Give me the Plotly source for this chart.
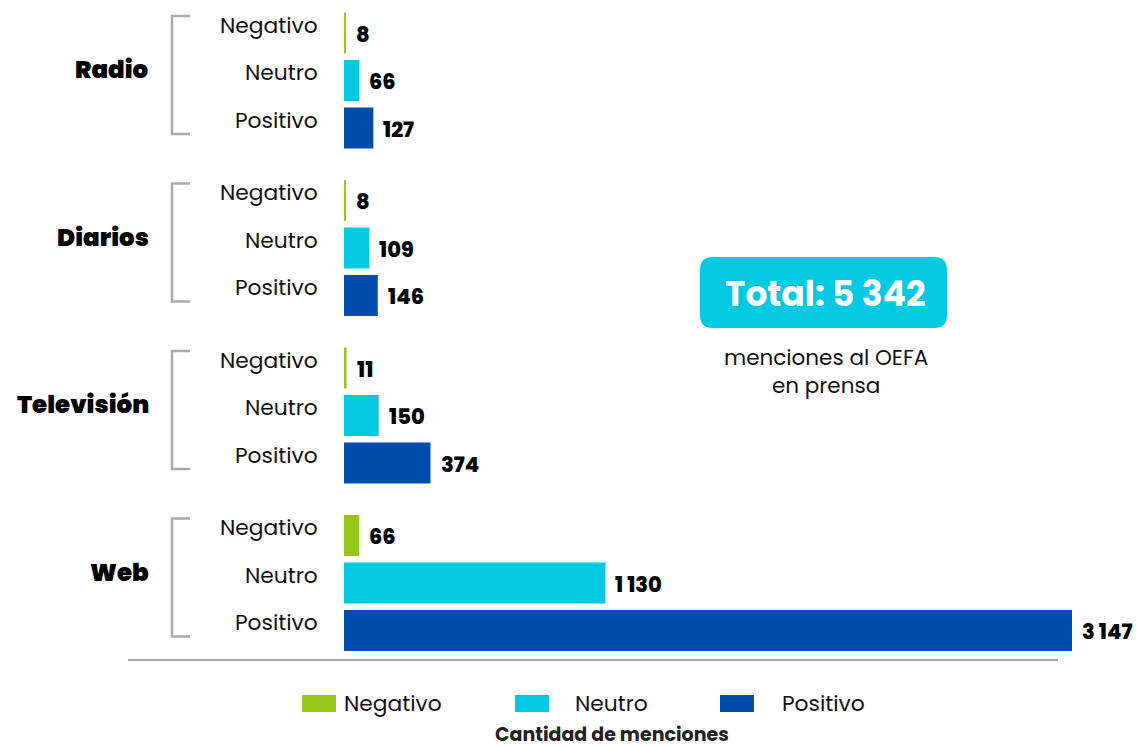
import plotly.graph_objects as go

# Menciones en prensa por canal y tono
canales = ["Radio", "Diarios", "Televisión", "Web"]
sentimientos = ["Negativo", "Neutro", "Positivo"]
negativo = [8, 8, 11, 66]
neutro = [66, 109, 150, 1130]
positivo = [127, 146, 374, 3147]
total_menciones = 5342

colores = {"Negativo": "#96C81C", "Neutro": "#00C9E1", "Positivo": "#004DAD"}
valores = {"Negativo": negativo, "Neutro": neutro, "Positivo": positivo}

# Canvas geometry (pixels)
W, H = 1137, 748
ML, MR, MT, MB = 344, 37, 0, 88
PW, PH = W - ML - MR, H - MT - MB
FIRST_ROW, ROW_STEP, GROUP_STEP = 33, 47.5, 167.5
BAR_H = 41
XMAX = 3268

FONT = "Poppins, 'Open Sans', sans-serif"


def px(x):
    return (x - ML) / PW


def py(y):
    return 1 - (y - MT) / PH


def fila(g, i):
    return FIRST_ROW + g * GROUP_STEP + i * ROW_STEP


def fmt(n):
    return f"{n:,}".replace(",", " ")


fig = go.Figure()

for i, s in enumerate(sentimientos):
    fig.add_trace(go.Bar(
        x=valores[s],
        y=[fila(g, i) for g in range(len(canales))],
        orientation="h",
        width=BAR_H,
        marker=dict(color=colores[s], line=dict(width=0)),
        name=s,
        showlegend=False,
        hovertemplate=s + ": %{x}<extra></extra>",
    ))

annotations = []
shapes = []

for g, canal in enumerate(canales):
    # Channel name
    annotations.append(dict(
        x=px(151), xref="paper", y=fila(g, 1) - 11, yref="y",
        text=canal, showarrow=False, xanchor="right", yanchor="middle",
        font=dict(family=FONT, size=24.5, color="#000000", weight=900),
    ))
    # Bracket grouping the three rows
    top, bot = fila(g, 0) - 17, fila(g, 2) + 6
    x0, x1 = px(172), px(190)
    shapes.append(dict(
        type="path", xref="paper", yref="y",
        path=f"M {x1},{top} L {x0},{top} L {x0},{bot} L {x1},{bot}",
        line=dict(color="#AAAAAA", width=2.5),
    ))
    for i, s in enumerate(sentimientos):
        annotations.append(dict(
            x=px(320), xref="paper", y=fila(g, i) - 8, yref="y",
            text=s, showarrow=False, xanchor="right", yanchor="middle",
            font=dict(family=FONT, size=21.8, color="#111111"),
        ))
        v = valores[s][g]
        annotations.append(dict(
            x=v, xref="x", y=fila(g, i) + 1, yref="y",
            text=fmt(v), showarrow=False, xanchor="left", yanchor="middle",
            xshift=8,
            font=dict(family=FONT, size=21, color="#000000", weight=800),
        ))

# Baseline under the bars
shapes.append(dict(
    type="line", xref="paper", yref="paper",
    x0=px(128), x1=px(1058), y0=py(660), y1=py(660),
    line=dict(color="#888888", width=1.5),
))

# Rounded total box
bx0, bx1, by0, by1 = 700, 947, 257, 328
r = 13
rx, ry = r / PW, r / PH
X0, X1, Y0, Y1 = px(bx0), px(bx1), py(by1), py(by0)
shapes.append(dict(
    type="path", xref="paper", yref="paper",
    path=(f"M {X0 + rx},{Y1} L {X1 - rx},{Y1} Q {X1},{Y1} {X1},{Y1 - ry} "
          f"L {X1},{Y0 + ry} Q {X1},{Y0} {X1 - rx},{Y0} "
          f"L {X0 + rx},{Y0} Q {X0},{Y0} {X0},{Y0 + ry} "
          f"L {X0},{Y1 - ry} Q {X0},{Y1} {X0 + rx},{Y1} Z"),
    fillcolor="#00C9E1", line=dict(width=0),
))
annotations.append(dict(
    x=px((bx0 + bx1) / 2 + 2), xref="paper", y=py(294), yref="paper",
    text=f"Total: {fmt(total_menciones)}", showarrow=False,
    xanchor="center", yanchor="middle",
    font=dict(family=FONT, size=34.5, color="#FFFFFF", weight=700),
))
annotations.append(dict(
    x=px(826), xref="paper", y=py(371), yref="paper",
    text="menciones al OEFA<br>en prensa", showarrow=False,
    xanchor="center", yanchor="middle", align="center",
    font=dict(family=FONT, size=21.5, color="#111111"),
))

# Legend
leyenda = [("Negativo", 302, 342), ("Neutro", 515, 573), ("Positivo", 720, 780)]
for s, sx, tx in leyenda:
    shapes.append(dict(
        type="rect", xref="paper", yref="paper",
        x0=px(sx), x1=px(sx + 34), y0=py(712), y1=py(695),
        fillcolor=colores[s], line=dict(width=0),
    ))
    annotations.append(dict(
        x=px(tx), xref="paper", y=py(703), yref="paper",
        text=s, showarrow=False, xanchor="left", yanchor="middle",
        font=dict(family=FONT, size=21.8, color="#111111"),
    ))

annotations.append(dict(
    x=px(612), xref="paper", y=py(749), yref="paper",
    text="Cantidad de menciones", showarrow=False,
    xanchor="center", yanchor="bottom", borderpad=0,
    font=dict(family=FONT, size=19, color="#222222", weight=700),
))

fig.update_layout(
    width=W, height=H,
    margin=dict(l=ML, r=MR, t=MT, b=MB, pad=0),
    paper_bgcolor="#FFFFFF", plot_bgcolor="#FFFFFF",
    barmode="overlay",
    xaxis=dict(range=[0, XMAX], visible=False, fixedrange=True),
    yaxis=dict(range=[PH, 0], visible=False, fixedrange=True),
    shapes=shapes,
    annotations=annotations,
    font=dict(family=FONT),
)

fig.write_html("out.html")
